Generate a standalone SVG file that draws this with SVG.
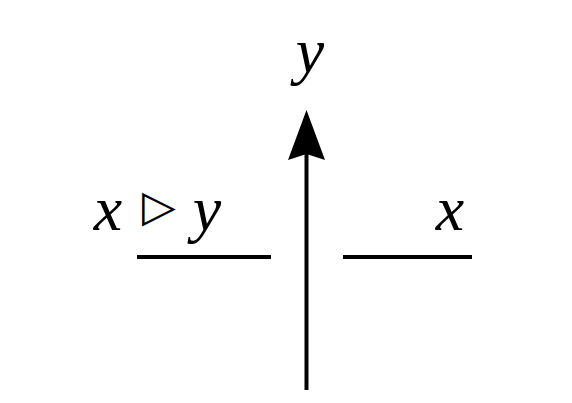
<svg xmlns="http://www.w3.org/2000/svg" width="572" height="403" viewBox="0 0 572 403">
<style>
.m{font-family:"Liberation Serif","DejaVu Serif",serif;font-style:italic;font-size:64px;fill:#000}
.s{font-family:"DejaVu Sans",sans-serif;font-size:44px;fill:#000}
.ln{stroke:#000;stroke-width:4;fill:none}
</style>
<rect width="572" height="403" fill="#fff"/>
<g id="connectors">
<line class="ln" x1="137" y1="257" x2="271" y2="257"/>
<line class="ln" x1="343" y1="257" x2="472" y2="257"/>
<line class="ln" x1="306.5" y1="390" x2="306.5" y2="150"/>
<path d="M306.5,110 L325,160 L306.5,154 L288,160 Z" fill="#000"/>
</g>
<g id="label-top"><text class="m" x="310" y="72" text-anchor="middle">y</text></g>
<g id="label-left"><text><tspan class="m" x="108" y="230" text-anchor="middle">x</tspan><tspan class="s" x="159" y="221" text-anchor="middle">▷</tspan><tspan class="m" x="207" y="230" text-anchor="middle">y</tspan></text></g>
<g id="label-right"><text class="m" x="450" y="230" text-anchor="middle">x</text></g>
</svg>
